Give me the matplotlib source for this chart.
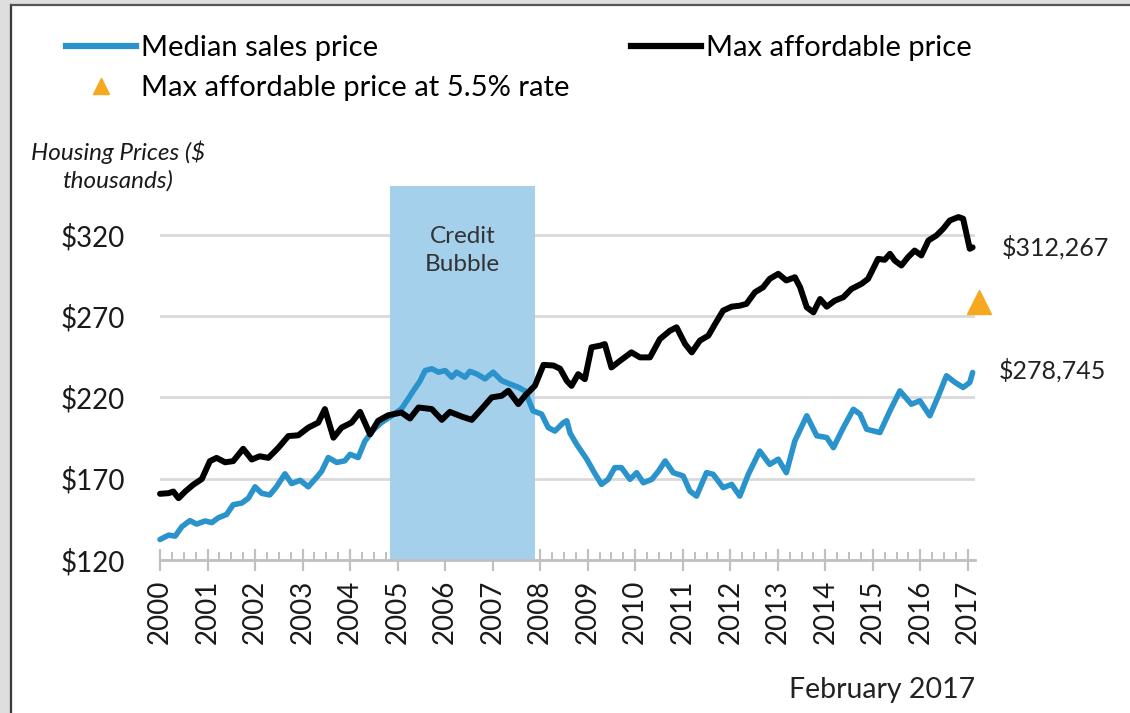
import numpy as np
import matplotlib
matplotlib.use("Agg")
import matplotlib.pyplot as plt
from matplotlib.lines import Line2D
from matplotlib.patches import Rectangle
from matplotlib.ticker import FixedLocator, FuncFormatter

plt.rcParams["font.family"] = ["Lato", "DejaVu Sans"]

# Median sales price, $ thousands (offset in years from Jan 2000)
median_t = [0.00, 0.18, 0.32, 0.46, 0.63, 0.77, 0.95, 1.09, 1.23, 1.40, 1.54, 1.72, 1.86,
            2.00, 2.14, 2.31, 2.45, 2.63, 2.77, 2.95, 3.12, 3.30, 3.40, 3.54, 3.72, 3.89,
            4.00, 4.17, 4.31, 4.49, 4.66, 4.87, 5.08, 5.22, 5.33, 5.47, 5.58, 5.72, 5.86,
            6.00, 6.14, 6.24, 6.42, 6.52, 6.66, 6.84, 7.01, 7.19, 7.36, 7.54, 7.68, 7.85,
            8.03, 8.17, 8.31, 8.49, 8.56, 8.63, 8.77, 8.98, 9.12, 9.29, 9.43, 9.57, 9.71,
            9.89, 10.03, 10.17, 10.35, 10.49, 10.63, 10.80, 11.01, 11.15, 11.29, 11.50,
            11.64, 11.85, 12.03, 12.20, 12.38, 12.62, 12.83, 13.01, 13.18, 13.36, 13.61,
            13.82, 14.03, 14.17, 14.38, 14.59, 14.73, 14.87, 15.15, 15.36, 15.57, 15.81,
            15.99, 16.20, 16.38, 16.55, 16.73, 16.90, 17.04, 17.10]
median_price = [132.6, 135.3, 134.7, 140.5, 144.2, 142.1, 144.0, 143.0, 146.0, 148.0, 154.0,
                155.0, 158.0, 165.0, 161.0, 160.0, 165.0, 173.0, 167.0, 169.0, 165.0, 171.0,
                174.5, 183.0, 180.0, 181.0, 185.0, 183.0, 193.0, 200.0, 204.5, 208.6, 213.0,
                219.0, 224.0, 230.0, 236.5, 237.6, 235.5, 236.5, 232.4, 235.5, 232.4, 236.0,
                234.5, 231.4, 235.5, 230.3, 228.3, 226.2, 224.0, 211.7, 209.7, 201.4, 199.3,
                204.5, 205.6, 198.0, 191.0, 182.0, 174.7, 166.5, 169.6, 176.8, 176.8, 169.6,
                173.7, 167.5, 169.6, 174.7, 180.9, 173.7, 171.7, 162.4, 159.3, 173.7, 172.7,
                164.5, 166.5, 159.3, 172.7, 187.0, 178.8, 182.0, 173.7, 193.3, 208.7, 196.4,
                195.3, 189.1, 201.4, 212.7, 209.7, 200.4, 198.4, 211.7, 224.0, 215.8, 217.9,
                208.7, 221.0, 233.3, 229.2, 226.1, 229.2, 235.3]

# Max affordable price, $ thousands
afford_t = [0.00, 0.18, 0.28, 0.39, 0.53, 0.70, 0.88, 1.05, 1.19, 1.37, 1.54, 1.75, 1.93,
            2.10, 2.28, 2.49, 2.70, 2.91, 3.12, 3.33, 3.47, 3.65, 3.82, 4.03, 4.21, 4.42,
            4.59, 4.80, 5.08, 5.26, 5.44, 5.72, 5.93, 6.10, 6.35, 6.56, 6.73, 6.98, 7.19,
            7.33, 7.54, 7.68, 7.89, 8.07, 8.28, 8.42, 8.56, 8.66, 8.80, 8.94, 9.08, 9.26,
            9.36, 9.50, 9.68, 9.92, 10.10, 10.31, 10.52, 10.73, 10.87, 11.05, 11.19, 11.36,
            11.54, 11.68, 11.85, 12.03, 12.20, 12.34, 12.52, 12.69, 12.83, 13.01, 13.18,
            13.36, 13.47, 13.61, 13.75, 13.89, 14.03, 14.20, 14.38, 14.55, 14.76, 14.90,
            15.11, 15.25, 15.36, 15.46, 15.60, 15.74, 15.88, 16.02, 16.17, 16.34, 16.48,
            16.62, 16.80, 16.90, 17.04, 17.10]
afford_price = [160.7, 161.1, 162.1, 158.0, 162.1, 166.3, 169.8, 180.8, 182.8, 180.1, 180.8,
                188.4, 181.8, 183.8, 182.8, 189.0, 196.2, 196.7, 201.4, 204.5, 212.8, 195.2,
                201.4, 204.5, 211.1, 197.3, 205.6, 209.0, 210.7, 207.0, 213.8, 212.8, 206.2,
                211.1, 208.2, 206.2, 211.7, 220.0, 221.0, 224.1, 215.9, 221.0, 227.2, 240.0,
                239.6, 237.6, 230.2, 227.1, 234.3, 231.2, 250.8, 251.8, 252.8, 238.4, 242.5,
                247.7, 244.6, 244.6, 255.9, 261.0, 263.1, 252.8, 247.7, 254.9, 258.0, 265.1,
                273.4, 275.8, 276.4, 277.5, 284.7, 287.7, 292.9, 296.0, 291.9, 293.9, 287.7,
                275.4, 272.3, 280.5, 275.8, 279.5, 281.6, 286.7, 289.8, 292.9, 305.2, 304.6,
                308.3, 304.2, 301.1, 306.2, 310.3, 307.3, 316.5, 319.6, 323.7, 328.8, 330.9,
                329.9, 311.4, 312.267]

# Max affordable price at a 5.5% mortgage rate
rate_year = 2017.23
rate_price = 278.745

bubble_start, bubble_end = 2004.84, 2007.89
year_ticks = list(range(2000, 2018))
price_ticks = [120, 170, 220, 270, 320]

BLUE = "#2a93cc"
BUBBLE = "#a5d0eb"
ORANGE = "#f6a81e"
W, H = 1130, 713

fig = plt.figure(figsize=(W / 100, H / 100), dpi=100, facecolor="#dedede")

# white panel with dark left / top edges
fig.patches.append(Rectangle((11 / W, 0), 1, 1 - 5 / H, transform=fig.transFigure,
                             facecolor="white", edgecolor="none", zorder=-5))
fig.lines.append(Line2D([11 / W, 11 / W], [0, 1 - 5 / H], transform=fig.transFigure,
                        color="#3a3a3a", lw=1.6, zorder=-4))
fig.lines.append(Line2D([11 / W, 1], [1 - 5 / H, 1 - 5 / H], transform=fig.transFigure,
                        color="#555555", lw=1.6, zorder=-4))

ax = fig.add_axes([160 / W, 1 - 560 / H, 815 / W, 374 / H], zorder=2)
ax.set_facecolor("none")

ax.axvspan(bubble_start, bubble_end, color=BUBBLE, lw=0, zorder=1)
ax.text((bubble_start + bubble_end) / 2, 310.5, "Credit\nBubble", ha="center", va="center",
        fontsize=17.5, color="#333333", linespacing=1.4, zorder=2)

ax.plot(2000 + np.array(afford_t), afford_price, color="black", lw=4.3,
        solid_joinstyle="round", solid_capstyle="round", zorder=4, clip_on=False)
ax.plot(2000 + np.array(median_t), median_price, color=BLUE, lw=4.0,
        solid_joinstyle="round", solid_capstyle="round", zorder=3, clip_on=False)
ax.plot([rate_year], [rate_price], marker="^", color=ORANGE, markersize=17, lw=0,
        zorder=5, clip_on=False)

# end-of-series value labels
ax.text(2017.72, afford_price[-1], f"${afford_price[-1] * 1000:,.0f}", ha="left",
        va="center", fontsize=18, color="#222222")
ax.text(2017.66, 236.5, f"${rate_price * 1000:,.0f}", ha="left", va="center",
        fontsize=18, color="#222222")

ax.set_xlim(2000, 2017.15)
ax.set_ylim(120, 350)

ax.yaxis.set_major_locator(FixedLocator(price_ticks))
ax.yaxis.set_major_formatter(FuncFormatter(lambda v, p: f"${v:.0f}"))
ax.grid(axis="y", color="#d9d9d9", lw=2)
ax.set_axisbelow(True)

ax.xaxis.set_major_locator(FixedLocator(year_ticks))
ax.xaxis.set_minor_locator(FixedLocator(np.arange(2000, 2017.2, 0.25)))
ax.set_xticklabels([str(y) for y in year_ticks], rotation=90, fontsize=20)

ax.tick_params(axis="y", length=0, pad=25, labelsize=20, labelcolor="#1a1a1a")
ax.tick_params(axis="x", which="major", direction="inout", length=16, width=1.6,
               color="#c0c0c0", pad=6, labelcolor="#1a1a1a")
ax.tick_params(axis="x", which="minor", direction="in", length=6, width=1.4,
               color="#c0c0c0")

for side in ["top", "right", "left"]:
    ax.spines[side].set_visible(False)
ax.spines["bottom"].set_color("#c0c0c0")
ax.spines["bottom"].set_linewidth(2)

fig.text(118 / W, 1 - 166 / H, "Housing Prices ($\nthousands)", ha="center", va="center",
         fontsize=17.5, style="italic", color="#1a1a1a", linespacing=1.4)
fig.text(975 / W, 1 - 690 / H, "February 2017", ha="right", va="center",
         fontsize=20.5, color="#222222")

handles = [
    Line2D([], [], color=BLUE, lw=4.5),
    Line2D([], [], color=ORANGE, marker="^", lw=0, markersize=12),
    Line2D([], [], color="black", lw=4.5),
]
labels = ["Median sales price", "Max affordable price at 5.5% rate", "Max affordable price"]
fig.legend(handles, labels, ncol=2, loc="upper left", bbox_to_anchor=(66 / W, 1 - 35 / H),
           frameon=False, fontsize=21, handlelength=2.4, handletextpad=0.17,
           columnspacing=2.1, labelspacing=0.49, borderpad=0, borderaxespad=0)

fig.savefig("out.png", dpi=100, facecolor=fig.get_facecolor())
